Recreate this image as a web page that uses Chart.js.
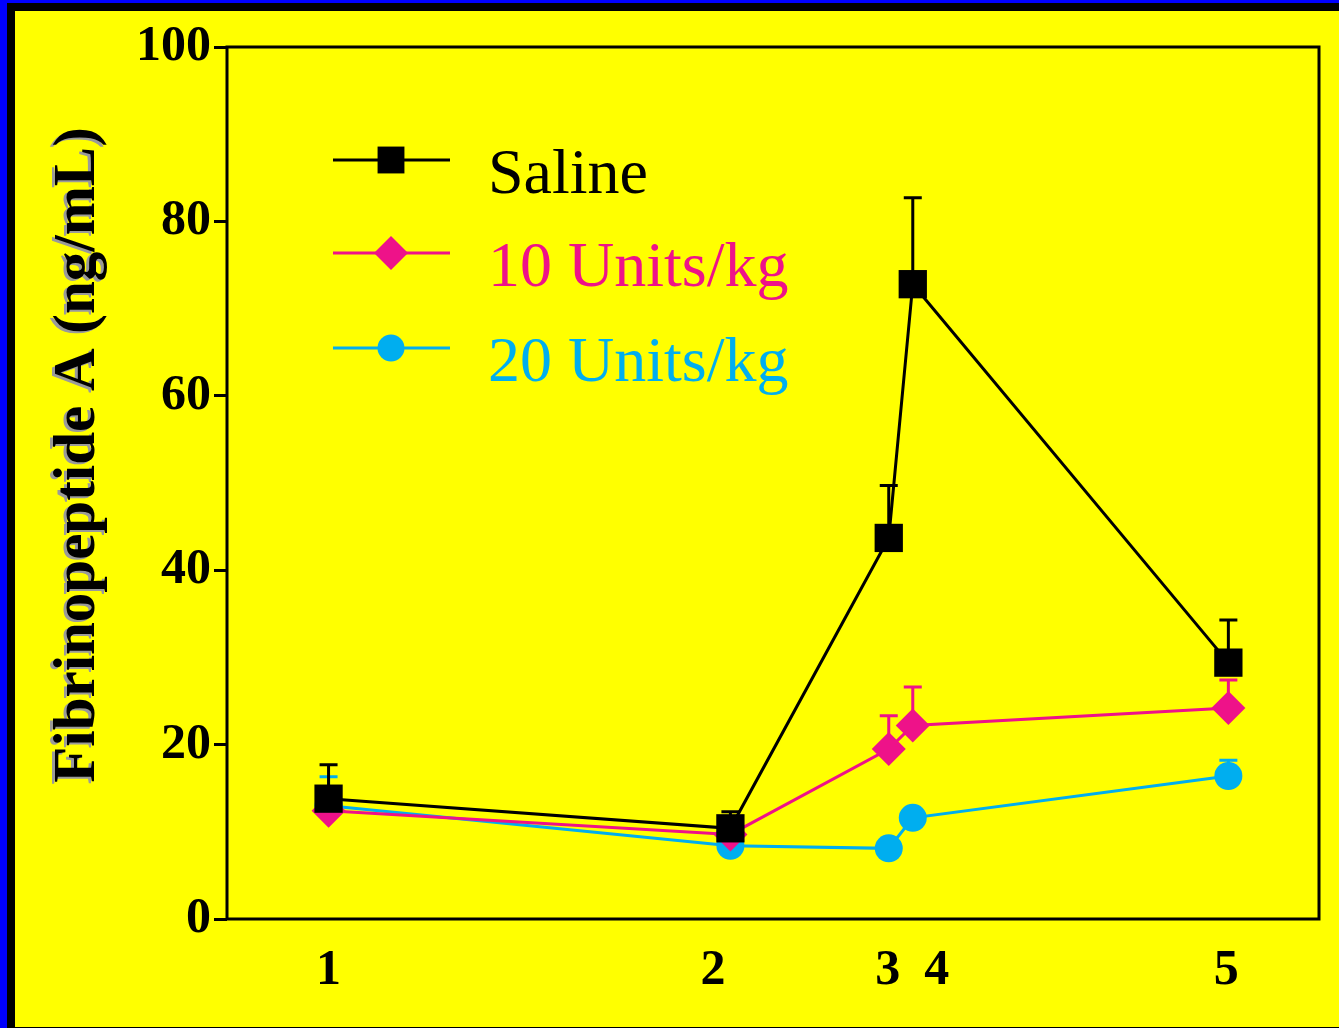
<!DOCTYPE html>
<html>
<head>
<meta charset="utf-8">
<script src="https://cdn.jsdelivr.net/npm/chart.js@4.4.0/dist/chart.umd.min.js"></script>
<style>
  html, body { margin: 0; padding: 0; background: #ffff00; }
  #wrap { width: 1339px; height: 1028px; }
</style>
</head>
<body>
<div id="wrap"><canvas id="fpaChart" width="1339" height="1028"></canvas></div>
<script>
// x positions of the samples on a 0-100 time axis, and where the sample numbers sit
const sampleTimes = [9.3, 46.1, 60.6, 62.8, 91.7];
const tickPositions = [9.3, 44.5, 60.5, 65.0, 91.5];
const tickNames = ['1', '2', '3', '4', '5'];
const yTicks = [0, 20, 40, 60, 80, 100];

// Fibrinopeptide A (ng/mL), mean and upper error
const salineValues = [13.8, 10.4, 43.7, 72.8, 29.4];
const salineErr = [3.9, 1.9, 6.0, 9.9, 4.9];
const units10Values = [12.4, 9.7, 19.5, 22.2, 24.2];
const units10Err = [1.2, 1.0, 3.8, 4.4, 3.2];
const units20Values = [13.0, 8.4, 8.1, 11.6, 16.4];
const units20Err = [3.3, 0.8, 0.6, 0.8, 1.8];

const seriesNames = ['Saline', '10 Units/kg', '20 Units/kg'];
const PINK = '#ee1289';
const CYAN = '#00aeef';
const SERIF = '"Liberation Serif", "Times New Roman", serif';

function points(vals) {
  return vals.map((v, i) => ({ x: sampleTimes[i], y: v }));
}

// page background and frame
const backdrop = {
  id: 'backdrop',
  beforeDraw(chart) {
    const c = chart.ctx, w = chart.width, h = chart.height;
    c.save();
    c.fillStyle = '#ffff00';
    c.fillRect(0, 0, w, h);
    c.fillStyle = '#0000ff';
    c.fillRect(0, 0, w, 3);
    c.fillRect(0, 0, 7, h);
    c.fillStyle = '#000';
    c.fillRect(7, 3, w - 7, 8);
    c.fillRect(7, 3, 8, h - 3);
    c.fillRect(7, h - 1, w - 7, 1);

    // y title with grey shadow
    c.translate(79, 455);
    c.rotate(-Math.PI / 2);
    c.font = 'bold 59px ' + SERIF;
    c.textAlign = 'center';
    c.textBaseline = 'middle';
    c.shadowColor = '#9a9a9a';
    c.shadowOffsetX = -3;
    c.shadowOffsetY = 2;
    c.fillStyle = '#000';
    c.fillText('Fibrinopeptide A (ng/mL)', 0, 0);
    c.restore();
  },
  beforeDatasetsDraw(chart) {
    const a = chart.chartArea, c = chart.ctx;
    c.save();
    c.strokeStyle = '#000';
    c.lineWidth = 3;
    c.strokeRect(a.left, a.top, a.right - a.left, a.bottom - a.top);
    c.restore();
  }
};

// upper error bars, drawn under each series' markers
const errorBars = {
  id: 'errorBars',
  beforeDatasetDraw(chart, args) {
    const ds = chart.data.datasets[args.index];
    const y = chart.scales.y, c = chart.ctx;
    c.save();
    c.strokeStyle = ds.borderColor;
    c.lineWidth = 3;
    args.meta.data.forEach((pt, i) => {
      const top = y.getPixelForValue(ds.data[i].y + ds.errors[i]);
      c.beginPath();
      c.moveTo(pt.x, pt.y);
      c.lineTo(pt.x, top);
      c.moveTo(pt.x - 9, top);
      c.lineTo(pt.x + 9, top);
      c.stroke();
    });
    c.restore();
  }
};

// legend inside the plot: line + marker + label
const insideLegend = {
  id: 'insideLegend',
  afterDatasetsDraw(chart) {
    const c = chart.ctx;
    const rows = [160, 253, 348];
    const sizes = [19, 17, 13.5];
    c.save();
    chart.data.datasets.forEach((ds, i) => {
      const y = rows[i];
      c.strokeStyle = ds.borderColor;
      c.fillStyle = ds.borderColor;
      c.lineWidth = 3;
      c.beginPath();
      c.moveTo(333, y);
      c.lineTo(450, y);
      c.stroke();
      Chart.helpers.drawPoint(c, { pointStyle: ds.pointStyle, radius: sizes[i], rotation: 0, borderWidth: 0 }, 391, y);
      c.font = '64px ' + SERIF;
      c.textAlign = 'left';
      c.textBaseline = 'alphabetic';
      c.fillText(ds.label, 488, y + 33);
    });
    c.restore();
  }
};

const ctx = document.getElementById('fpaChart').getContext('2d');
new Chart(ctx, {
  type: 'line',
  data: {
    datasets: [
      { label: seriesNames[0], data: points(salineValues), errors: salineErr,
        borderColor: '#000', backgroundColor: '#000', pointBackgroundColor: '#000',
        pointStyle: 'rect', pointRadius: 20, pointBorderWidth: 0, borderWidth: 3, tension: 0 },
      { label: seriesNames[1], data: points(units10Values), errors: units10Err,
        borderColor: PINK, backgroundColor: PINK, pointBackgroundColor: PINK,
        pointStyle: 'rectRot', pointRadius: 17, pointBorderWidth: 0, borderWidth: 3, tension: 0 },
      { label: seriesNames[2], data: points(units20Values), errors: units20Err,
        borderColor: CYAN, backgroundColor: CYAN, pointBackgroundColor: CYAN,
        pointStyle: 'circle', pointRadius: 14, pointBorderWidth: 0, borderWidth: 3, tension: 0 }
    ]
  },
  options: {
    responsive: false,
    animation: false,
    layout: { padding: { top: 47, right: 18, left: 0, bottom: 0 } },
    plugins: { legend: { display: false }, tooltip: { enabled: false } },
    scales: {
      x: {
        type: 'linear', min: 0, max: 100,
        afterBuildTicks: s => { s.ticks = tickPositions.map(v => ({ value: v })); },
        afterFit: s => { s.height = 109; },
        grid: { display: false, drawTicks: false },
        border: { display: false },
        ticks: {
          callback: (v, i) => tickNames[i],
          autoSkip: false, maxRotation: 0, padding: 22,
          color: '#000', font: { family: SERIF, size: 50, weight: 'bold' }
        }
      },
      y: {
        min: 0, max: 100,
        afterBuildTicks: s => { s.ticks = yTicks.map(v => ({ value: v })); },
        afterFit: s => { s.width = 227; },
        grid: { drawOnChartArea: false, color: '#000', lineWidth: 3, tickLength: 13 },
        border: { display: false },
        ticks: {
          padding: 3,
          color: '#000', font: { family: SERIF, size: 50, weight: 'bold' }
        }
      }
    }
  },
  plugins: [backdrop, errorBars, insideLegend]
});
</script>
</body>
</html>
